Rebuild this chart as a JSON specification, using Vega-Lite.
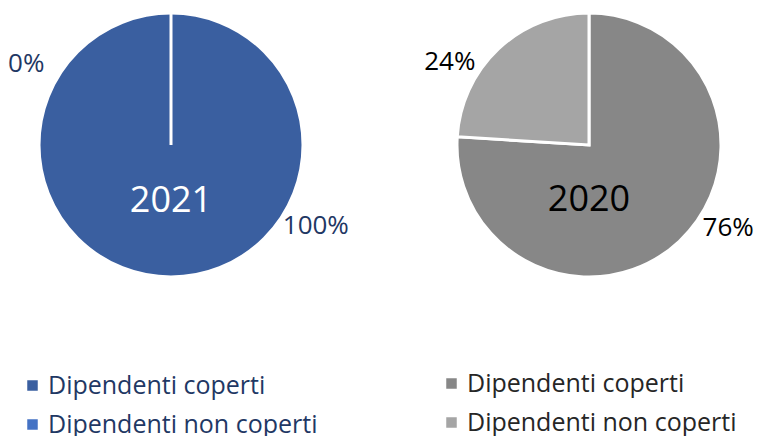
{
  "$schema": "https://vega.github.io/schema/vega-lite/v6.json",
  "padding": 0,
  "spacing": 79,
  "bounds": "flush",
  "background": "white",
  "config": {"view": {"stroke": null}, "font": "Open Sans", "legend": {"padding": 0}},
  "datasets": {
    "d": [
      {"anno": "2021", "categoria": "Dipendenti coperti", "quota": 1.0},
      {"anno": "2021", "categoria": "Dipendenti non coperti", "quota": 0.0},
      {"anno": "2020", "categoria": "Dipendenti coperti", "quota": 0.76},
      {"anno": "2020", "categoria": "Dipendenti non coperti", "quota": 0.24}
    ]
  },
  "hconcat": [
    {
      "width": 342,
      "height": 290,
      "data": {"name": "d"},
      "transform": [{"filter": "datum.anno == '2021'"}],
      "layer": [
        {
          "mark": {"type": "arc", "radius": 132, "stroke": "white", "strokeWidth": 3},
          "encoding": {
            "theta": {"field": "quota", "type": "quantitative", "stack": true},
            "order": {"field": "categoria", "sort": "ascending"},
            "color": {
              "field": "categoria", "type": "nominal",
              "scale": {"domain": ["Dipendenti coperti", "Dipendenti non coperti"], "range": ["#3A5FA0", "#4472C4"]},
              "legend": {"title": null, "orient": "none", "legendX": 20, "legendY": 373, "symbolType": "square", "symbolSize": 144, "labelFontSize": 25, "labelColor": "#1F3864", "labelOffset": 3, "labelLimit": 400, "rowPadding": 13, "direction": "vertical", "labelFont": "Open Sans"}
            }
          }
        },
        {
          "mark": {"type": "text", "radius": 166, "thetaOffset": -1.06, "fontSize": 26, "fill": "#1F3864"},
          "encoding": {
            "theta": {"field": "quota", "type": "quantitative", "stack": true},
            "order": {"field": "categoria", "sort": "ascending"},
            "detail": {"field": "categoria"},
            "text": {"field": "quota", "type": "quantitative", "format": ".0%"}
          }
        },
        {
          "transform": [{"filter": "datum.categoria == 'Dipendenti coperti'"}],
          "mark": {"type": "text", "fontSize": 36, "dy": 56, "fill": "white"},
          "encoding": {"text": {"field": "anno"}}
        }
      ]
    },
    {
      "width": 336,
      "height": 290,
      "data": {"name": "d"},
      "transform": [{"filter": "datum.anno == '2020'"}],
      "layer": [
        {
          "mark": {"type": "arc", "radius": 132, "stroke": "white", "strokeWidth": 3},
          "encoding": {
            "theta": {"field": "quota", "type": "quantitative", "stack": true},
            "order": {"field": "categoria", "sort": "ascending"},
            "color": {
              "field": "categoria", "type": "nominal",
              "scale": {"domain": ["Dipendenti coperti", "Dipendenti non coperti"], "range": ["#878787", "#A5A5A5"]},
              "legend": {"title": null, "orient": "none", "legendX": 18, "legendY": 371, "symbolType": "square", "symbolSize": 144, "labelFontSize": 25, "labelColor": "#262626", "labelOffset": 3, "labelLimit": 400, "rowPadding": 13, "direction": "vertical", "labelFont": "Open Sans"}
            }
          }
        },
        {
          "mark": {"type": "text", "radius": 162, "thetaOffset": -0.28, "fontSize": 26, "fill": "#000000"},
          "encoding": {
            "theta": {"field": "quota", "type": "quantitative", "stack": true},
            "order": {"field": "categoria", "sort": "ascending"},
            "detail": {"field": "categoria"},
            "text": {"field": "quota", "type": "quantitative", "format": ".0%"}
          }
        },
        {
          "transform": [{"filter": "datum.categoria == 'Dipendenti coperti'"}],
          "mark": {"type": "text", "fontSize": 36, "dy": 55, "fill": "#000000"},
          "encoding": {"text": {"field": "anno"}}
        }
      ]
    }
  ],
  "resolve": {"scale": {"color": "independent", "theta": "independent"}, "legend": {"color": "independent"}}
}
